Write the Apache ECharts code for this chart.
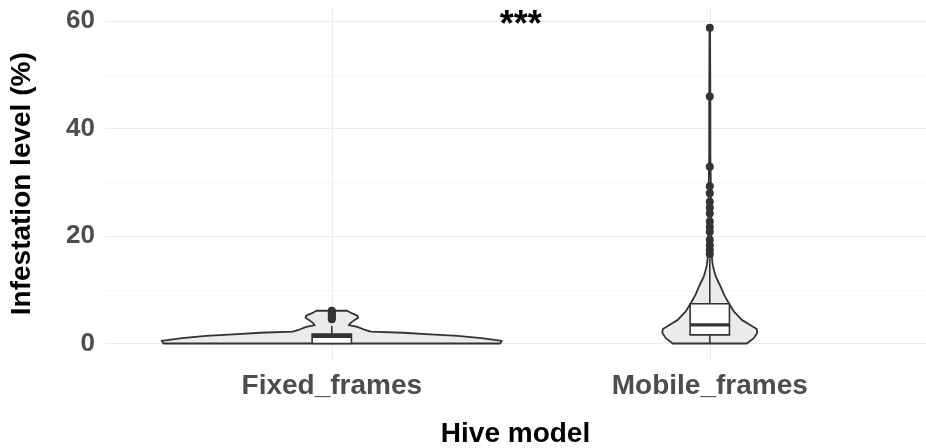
<!DOCTYPE html>
<html>
<head>
<meta charset="utf-8">
<script src="https://cdn.jsdelivr.net/npm/echarts@6/dist/echarts.min.js"></script>
<style>
  html, body { margin: 0; padding: 0; background: #ffffff; }
  #chart { width: 926px; height: 448px; }
</style>
</head>
<body>
<div id="chart"></div>
<script>
// Hive models on the x axis
const categories = ['Fixed_frames', 'Mobile_frames'];
const categoryPos = [1, 2];

// Violin outlines: infestation level (%) and relative density width
const fixedViolinLevel = [0, 0.5, 1.0, 1.4, 1.7, 2.0, 2.2, 2.6, 3.1, 3.4, 3.8, 4.3, 4.8, 5.2, 5.6, 6.1];
const fixedViolinWidth = [0.99, 1.0, 0.88, 0.74, 0.58, 0.42, 0.23, 0.19, 0.15, 0.10, 0.11, 0.13, 0.155, 0.15, 0.12, 0.09];
const mobileViolinLevel = [0, 1.0, 2.0, 2.7, 3.5, 4.4, 5.0, 6.0, 7.5, 9.0, 10.5, 11.5, 12.5, 13.5, 14.5, 16, 18, 22, 26, 30, 35, 45, 52, 58.8];
const mobileViolinWidth = [0.218, 0.259, 0.279, 0.276, 0.235, 0.188, 0.171, 0.141, 0.112, 0.085, 0.065, 0.05, 0.035, 0.026, 0.018, 0.012, 0.009, 0.008, 0.007, 0.006, 0.0035, 0.0035, 0.0024, 0.0018];

// Box statistics: [lower whisker, Q1, median, Q3, upper whisker]
const fixedBox = [0, 0, 1.3, 1.75, 3.3];
const mobileBox = [0, 1.6, 3.45, 7.4, 15.8];

// Outlying observations
const fixedOutliers = [4.5, 4.8, 5.1, 5.5, 5.8, 6.1];
const mobileOutliers = [58.8, 46.0, 32.9, 29.3, 28.0, 26.4, 25.3, 24.2, 22.7, 21.7, 20.8, 19.3, 18.3, 17.4, 16.6];

// Axis ticks
const yMajorTicks = [0, 20, 40, 60];
const yMinorTicks = [10, 30, 50];

// Significance annotation
const sigText = '***';
const sigAt = [1.5, 60];

const violinHalf = 0.45;   // half of a 0.9-wide violin
const boxHalf = 0.052;
const FONT = "'Liberation Sans', Arial, sans-serif";
const INK = '#333333';

const violins = [
  { level: fixedViolinLevel, width: fixedViolinWidth },
  { level: mobileViolinLevel, width: mobileViolinWidth }
];
const boxes = [fixedBox, mobileBox];

function renderViolin(params, api) {
  const x0 = api.value(0);
  const v = violins[api.value(1)];
  const left = [], right = [];
  for (let i = 0; i < v.level.length; i++) {
    left.push(api.coord([x0 - v.width[i] * violinHalf, v.level[i]]));
    right.push(api.coord([x0 + v.width[i] * violinHalf, v.level[i]]));
  }
  return {
    type: 'polygon',
    shape: { points: left.concat(right.reverse()) },
    style: { fill: '#ebebeb', stroke: INK, lineWidth: 1.8, lineJoin: 'round' }
  };
}

function renderBox(params, api) {
  const x0 = api.value(0);
  const b = boxes[api.value(1)];
  const pLo = api.coord([x0, b[0]]);
  const pQ1 = api.coord([x0 - boxHalf, b[1]]);
  const pQ3 = api.coord([x0 + boxHalf, b[3]]);
  const pMedL = api.coord([x0 - boxHalf, b[2]]);
  const pMedR = api.coord([x0 + boxHalf, b[2]]);
  const pQ1c = api.coord([x0, b[1]]);
  const pQ3c = api.coord([x0, b[3]]);
  const pHi = api.coord([x0, b[4]]);
  return {
    type: 'group',
    children: [
      { type: 'line', shape: { x1: pLo[0], y1: pLo[1], x2: pQ1c[0], y2: pQ1c[1] }, style: { stroke: INK, lineWidth: 1.6 } },
      { type: 'line', shape: { x1: pQ3c[0], y1: pQ3c[1], x2: pHi[0], y2: pHi[1] }, style: { stroke: INK, lineWidth: 1.6 } },
      { type: 'rect', shape: { x: pQ1[0], y: pQ3[1], width: pQ3[0] - pQ1[0], height: pQ1[1] - pQ3[1] },
        style: { fill: '#ffffff', stroke: INK, lineWidth: 1.6 } },
      { type: 'line', shape: { x1: pMedL[0], y1: pMedL[1], x2: pMedR[0], y2: pMedR[1] }, style: { stroke: INK, lineWidth: 3.2 } }
    ]
  };
}

function renderSig(params, api) {
  const p = api.coord([api.value(0), api.value(1)]);
  return {
    type: 'text',
    style: { text: sigText, x: p[0], y: p[1] + 5, align: 'center', verticalAlign: 'middle',
             fill: '#000000', font: "bold 36px " + FONT }
  };
}

const outlierData = [];
fixedOutliers.forEach(v => outlierData.push([categoryPos[0], v]));
mobileOutliers.forEach(v => outlierData.push([categoryPos[1], v]));

const chart = echarts.init(document.getElementById('chart'), null, { renderer: 'canvas' });
chart.setOption({
  animation: false,
  backgroundColor: '#ffffff',
  grid: { left: 105, top: 7.9, right: 0, height: 351.7, containLabel: false, outerBoundsMode: 'none' },
  xAxis: {
    type: 'value', min: 0.4, max: 2.572,
    name: 'Hive model', nameLocation: 'middle', nameGap: 61,
    nameTextStyle: { fontFamily: FONT, fontWeight: 'bold', fontSize: 28, color: '#000000' },
    axisLine: { show: false },
    axisTick: { show: false, customValues: categoryPos },
    axisLabel: {
      customValues: categoryPos, margin: 13,
      formatter: v => categories[categoryPos.indexOf(Math.round(v))] || '',
      fontFamily: FONT, fontWeight: 'bold', fontSize: 28, color: '#4d4d4d'
    },
    splitLine: { show: true, lineStyle: { color: '#ebebeb', width: 1.1 } }
  },
  yAxis: [{
    type: 'value', min: -3, max: 62.5,
    name: 'Infestation level (%)', nameLocation: 'middle', nameGap: 69, nameRotate: 90,
    nameTextStyle: { fontFamily: FONT, fontWeight: 'bold', fontSize: 28, color: '#000000' },
    axisLine: { show: false },
    axisTick: { show: false, customValues: yMajorTicks },
    axisLabel: { customValues: yMajorTicks, margin: 10, fontFamily: FONT, fontWeight: 'bold', fontSize: 26, color: '#4d4d4d' },
    splitLine: { show: true, lineStyle: { color: '#ebebeb', width: 1.1 } }
  }, {
    type: 'value', min: -3, max: 62.5, position: 'left',
    axisLine: { show: false },
    axisTick: { show: false, customValues: yMinorTicks },
    axisLabel: { show: false, customValues: yMinorTicks },
    splitLine: { show: true, lineStyle: { color: '#f2f2f2', width: 0.6 } }
  }],
  series: [
    { type: 'custom', renderItem: renderViolin, data: [[categoryPos[0], 0], [categoryPos[1], 1]], clip: false, z: 2 },
    { type: 'custom', renderItem: renderBox, data: [[categoryPos[0], 0], [categoryPos[1], 1]], clip: false, z: 3 },
    { type: 'scatter', data: outlierData, symbol: 'circle', symbolSize: 8, itemStyle: { color: INK, opacity: 1 }, z: 4 },
    { type: 'custom', renderItem: renderSig, data: [sigAt], clip: false, z: 5 }
  ]
});
</script>
</body>
</html>
